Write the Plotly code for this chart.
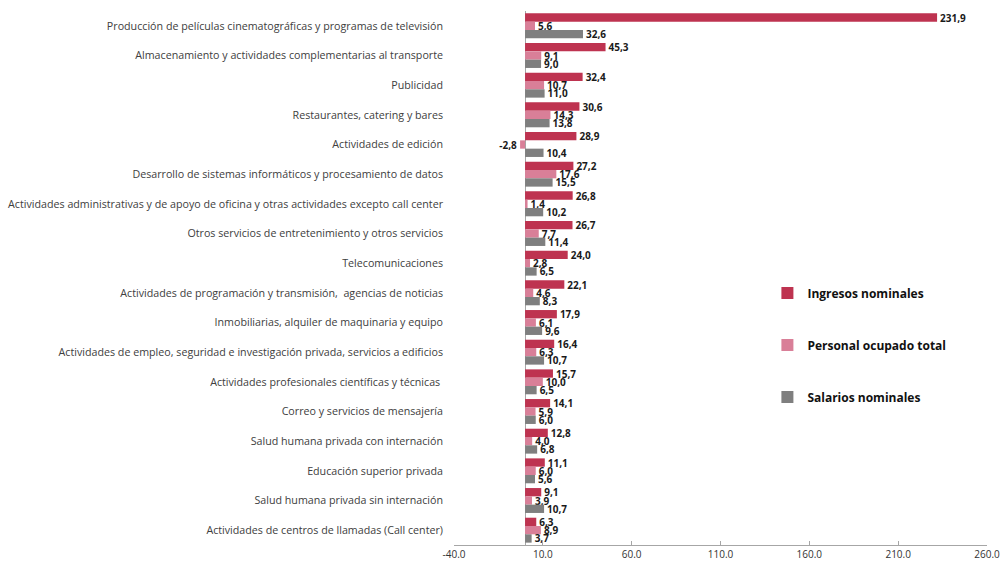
import plotly.graph_objects as go

categories = [
    "Producción de películas cinematográficas y programas de televisión",
    "Almacenamiento y actividades complementarias al transporte",
    "Publicidad",
    "Restaurantes, catering y bares",
    "Actividades de edición",
    "Desarrollo de sistemas informáticos y procesamiento de datos",
    "Actividades administrativas y de apoyo de oficina y otras actividades excepto call center",
    "Otros servicios de entretenimiento y otros servicios",
    "Telecomunicaciones",
    "Actividades de programación y transmisión,  agencias de noticias",
    "Inmobiliarias, alquiler de maquinaria y equipo",
    "Actividades de empleo, seguridad e investigación privada, servicios a edificios",
    "Actividades profesionales científicas y técnicas ",
    "Correo y servicios de mensajería",
    "Salud humana privada con internación",
    "Educación superior privada",
    "Salud humana privada sin internación",
    "Actividades de centros de llamadas (Call center)",
]
ingresos = [231.9, 45.3, 32.4, 30.6, 28.9, 27.2, 26.8, 26.7, 24.0, 22.1, 17.9, 16.4, 15.7, 14.1, 12.8, 11.1, 9.1, 6.3]
personal = [5.6, 9.1, 10.7, 14.3, -2.8, 17.6, 1.4, 7.7, 2.8, 4.6, 6.1, 6.3, 10.0, 5.9, 4.0, 6.0, 3.9, 8.9]
salarios = [32.6, 9.0, 11.0, 13.8, 10.4, 15.5, 10.2, 11.4, 6.5, 8.3, 9.6, 10.7, 6.5, 6.0, 6.8, 5.6, 10.7, 3.7]

series_names = ["Ingresos nominales", "Personal ocupado total", "Salarios nominales"]
colors = ["#BE3350", "#D97F98", "#7F7F7F"]
tick_vals = [-40, 10, 60, 110, 160, 210, 260]
tick_text = ["-40.0", "10.0", "60.0", "110.0", "160.0", "210.0", "260.0"]

fig = go.Figure()
for i, (name, vals) in enumerate(zip(series_names, [ingresos, personal, salarios])):
    fig.add_trace(go.Bar(
        y=categories, x=vals, name=name, orientation="h",
        marker=dict(color=colors[i], line=dict(width=0)),
        texttemplate="%{x:.1f}", textposition="outside",
        textfont=dict(family="Open Sans", size=10, color="#1a1a1a", weight="bold"),
        constraintext="none", cliponaxis=False,
        legendgroup=name,
    ))

fig.update_layout(
    width=1002, height=565,
    barmode="group", bargap=0.16, bargroupgap=0,
    separators=",.",
    plot_bgcolor="white", paper_bgcolor="white",
    margin=dict(l=454, r=15, t=11, b=20, autoexpand=False),
    font=dict(family="Open Sans", size=10, color="#333333"),
    legend=dict(
        x=0.588, y=0.499, xanchor="left", yanchor="top",
        font=dict(family="Open Sans", size=12, color="#111111", weight="bold"),
        tracegroupgap=33, itemwidth=30, bgcolor="rgba(0,0,0,0)",
    ),
    xaxis=dict(
        range=[-40, 260], tickvals=tick_vals, ticktext=tick_text,
        showgrid=False, zeroline=True, zerolinecolor="#A6A6A6", zerolinewidth=1,
        showline=True, linecolor="#A6A6A6", linewidth=1,
        ticks="inside", ticklen=4, tickcolor="#A6A6A6",
        tickfont=dict(size=10, color="#333333"),
    ),
    yaxis=dict(
        autorange="reversed", showgrid=False, showline=False,
        ticks="", ticklabelstandoff=10,
        tickfont=dict(size=10.7, color="#404040"),
    ),
)

fig.write_html(
    "out.html",
    config={"displayModeBar": False},
    post_script="document.body.style.margin='0';document.body.style.overflow='hidden';",
)
